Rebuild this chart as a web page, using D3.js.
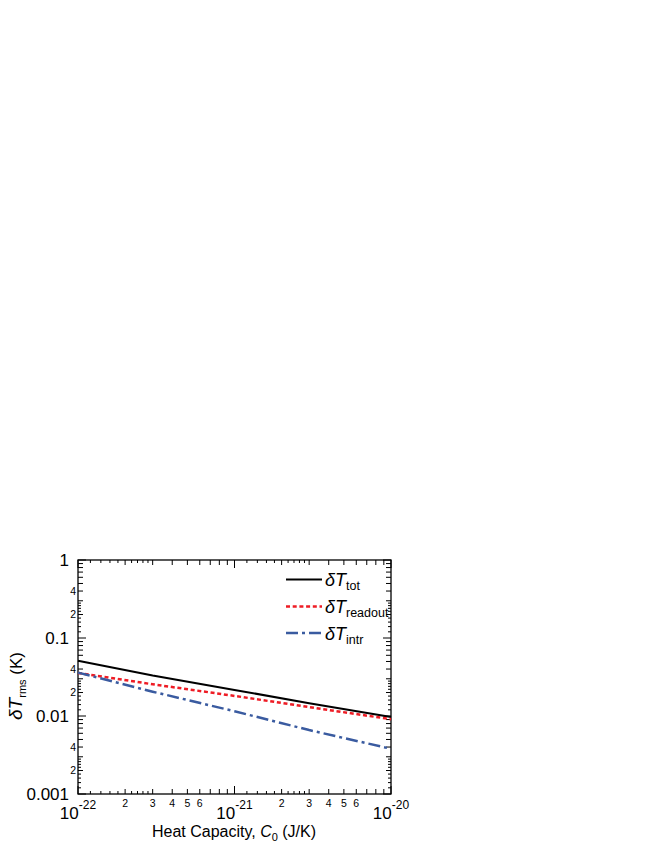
<!DOCTYPE html>
<html>
<head>
<meta charset="utf-8">
<script src="https://cdn.jsdelivr.net/npm/d3@7"></script>
<style>
  body { margin: 0; background: #fff; }
  svg { display: block; font-family: "Liberation Sans", Arial, sans-serif; }
</style>
</head>
<body>
<div id="chart"></div>
<script>
// data
const capacity = [1e-22, 3e-22, 1e-21, 3e-21, 1e-20];   // C0 (J/K)
const dTtot = [0.0512, 0.0330, 0.0216, 0.0146, 0.0097];
const dTreadout = [0.0356, 0.0255, 0.0181, 0.0130, 0.0091];
const dTintr = [0.0360, 0.0205, 0.0115, 0.0066, 0.0038];

const seriesNames = ["tot", "readout", "intr"];
const seriesColors = ["#000000", "#ee1c25", "#3a5ba0"];

// ticks
const xMajor = [1e-22, 1e-21, 1e-20];
const xMajorExp = ["-22", "-21", "-20"];
const xMinorMult = [2, 3, 4, 5, 6, 7, 8, 9];
const xSubMult = [1.2, 1.4, 1.6, 1.8, 2.2, 2.4, 2.6, 2.8];
const xMinorLabelMult = [2, 3, 4, 5, 6];

const yMajor = [0.001, 0.01, 0.1, 1];
const yMajorLabels = ["0.001", "0.01", "0.1", "1"];
const yMinorMult = [2, 3, 4, 5, 6, 7, 8, 9];
const ySubMult = [1.2, 1.4, 1.6, 1.8, 2.2, 2.4, 2.6, 2.8];
const yMinorLabelMult = [2, 4];

const width = 664, height = 860;
const plotLeft = 78, plotRight = 391, plotTop = 560, plotBottom = 794;

const svg = d3.select("#chart").append("svg")
  .attr("width", width)
  .attr("height", height);

const x = d3.scaleLog().domain([1e-22, 1e-20]).range([plotLeft, plotRight]);
const y = d3.scaleLog().domain([0.001, 1]).range([plotBottom, plotTop]);

// build tick lists per decade
function decadeTicks(majors, mult) {
  let out = [];
  for (let i = 0; i < majors.length - 1; i++) {
    mult.forEach(m => out.push(majors[i] * m));
  }
  return out;
}
const xMinor = decadeTicks(xMajor, xMinorMult);
const xSub = decadeTicks(xMajor, xSubMult);
const yMinor = decadeTicks(yMajor, yMinorMult);
const ySub = decadeTicks(yMajor, ySubMult);

// ticks on all four sides, pointing inward
const tickG = svg.append("g").attr("stroke", "#000").attr("stroke-width", 1);
function xTicks(vals, len) {
  vals.forEach(v => {
    tickG.append("line").attr("x1", x(v)).attr("x2", x(v)).attr("y1", plotBottom).attr("y2", plotBottom - len);
    tickG.append("line").attr("x1", x(v)).attr("x2", x(v)).attr("y1", plotTop).attr("y2", plotTop + len);
  });
}
function yTicks(vals, len) {
  vals.forEach(v => {
    tickG.append("line").attr("y1", y(v)).attr("y2", y(v)).attr("x1", plotLeft).attr("x2", plotLeft + len);
    tickG.append("line").attr("y1", y(v)).attr("y2", y(v)).attr("x1", plotRight).attr("x2", plotRight - len);
  });
}
xTicks(xMajor, 8);
xTicks(xMinor, 5);
xTicks(xSub, 3);
yTicks(yMajor, 8);
yTicks(yMinor, 5);
yTicks(ySub, 3);

// frame
svg.append("rect")
  .attr("x", plotLeft).attr("y", plotTop)
  .attr("width", plotRight - plotLeft).attr("height", plotBottom - plotTop)
  .attr("fill", "none").attr("stroke", "#000").attr("stroke-width", 1.3);

// x labels
xMajor.forEach((v, i) => {
  const t = svg.append("text")
    .attr("x", x(v)).attr("y", 819)
    .attr("text-anchor", "middle")
    .attr("font-size", 17);
  t.append("tspan").text("10");
  t.append("tspan").attr("dy", -10).attr("font-size", 12).text(xMajorExp[i]);
});
decadeTicks(xMajor, xMinorLabelMult).forEach((v, i) => {
  svg.append("text")
    .attr("x", x(v)).attr("y", 807)
    .attr("text-anchor", "middle")
    .attr("font-size", 10.5)
    .text(xMinorLabelMult[i % xMinorLabelMult.length]);
});

// y labels
yMajor.forEach((v, i) => {
  svg.append("text")
    .attr("x", 69).attr("y", y(v))
    .attr("dy", "0.36em")
    .attr("text-anchor", "end")
    .attr("font-size", 17)
    .text(yMajorLabels[i]);
});
decadeTicks(yMajor, yMinorLabelMult).forEach((v, i) => {
  svg.append("text")
    .attr("x", 76).attr("y", y(v))
    .attr("dy", "0.36em")
    .attr("text-anchor", "end")
    .attr("font-size", 10.5)
    .text(yMinorLabelMult[i % yMinorLabelMult.length]);
});

// axis titles
const xt = svg.append("text")
  .attr("x", 234).attr("y", 837)
  .attr("text-anchor", "middle")
  .attr("font-size", 16);
xt.append("tspan").text("Heat Capacity, ");
xt.append("tspan").attr("font-style", "italic").text("C");
xt.append("tspan").attr("font-size", 11).attr("dy", 4).text("0");
xt.append("tspan").attr("dy", -4).text(" (J/K)");

const yt = svg.append("text")
  .attr("transform", "translate(22,686) rotate(-90)")
  .attr("text-anchor", "middle")
  .attr("font-size", 17);
yt.append("tspan").attr("font-style", "italic").attr("font-size", 19).text("δT");
yt.append("tspan").attr("font-size", 11).attr("dy", 4).text("rms");
yt.append("tspan").attr("dy", -4).text(" (K)");

// lines
const allSeries = [dTtot, dTreadout, dTintr];
const dashes = [null, "4,2.7", "12,4,3,4"];
const widths = [2, 2.5, 2.5];
const line = d3.line()
  .x(d => x(d[0]))
  .y(d => y(d[1]));

allSeries.forEach((s, i) => {
  svg.append("path")
    .datum(capacity.map((c, j) => [c, s[j]]))
    .attr("d", line)
    .attr("fill", "none")
    .attr("stroke", seriesColors[i])
    .attr("stroke-width", widths[i])
    .attr("stroke-dasharray", dashes[i]);
});

// legend
const legendY = [579.5, 606.5, 633];
seriesNames.forEach((name, i) => {
  svg.append("line")
    .attr("x1", 286).attr("x2", 322)
    .attr("y1", legendY[i]).attr("y2", legendY[i])
    .attr("stroke", seriesColors[i])
    .attr("stroke-width", widths[i])
    .attr("stroke-dasharray", dashes[i]);
  const t = svg.append("text")
    .attr("x", 325).attr("y", legendY[i] + 6.5)
    .attr("font-size", 18);
  t.append("tspan").attr("font-style", "italic").text("δT");
  t.append("tspan").attr("font-size", 12.5).attr("dy", 4).text(name);
});
</script>
</body>
</html>
